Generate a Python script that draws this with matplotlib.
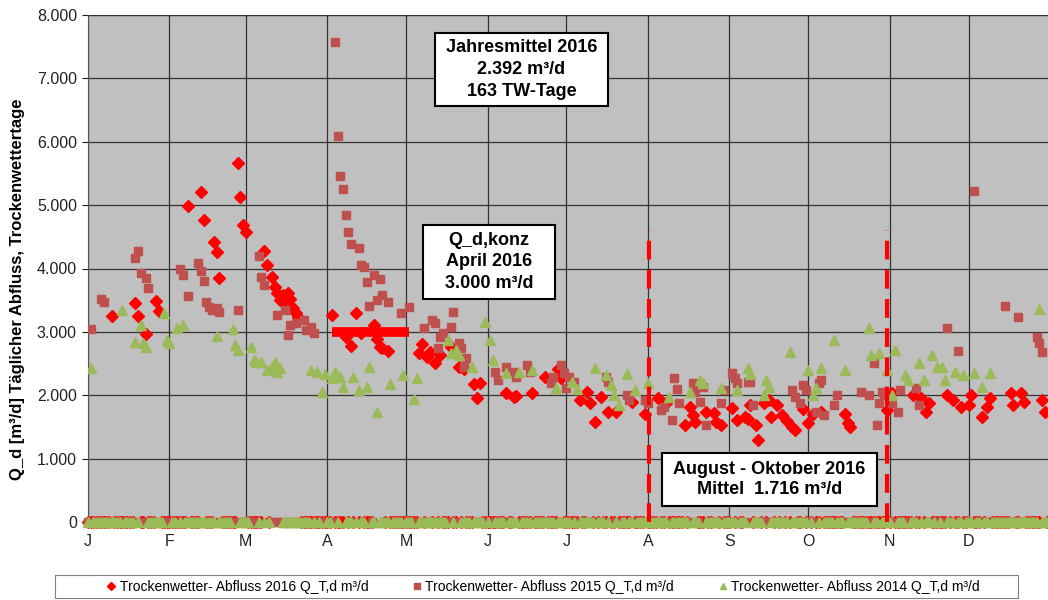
import numpy as np
import matplotlib
matplotlib.use('Agg')
import matplotlib.pyplot as plt
from matplotlib.patches import Rectangle
from matplotlib.ticker import FuncFormatter

plt.rcParams['font.family'] = ['Liberation Sans', 'DejaVu Sans']

# Trockenwettertage (Tag des Jahres, 0 = 1. Januar) und Abfluss in m³/d
days_2016 = [9, 18, 19, 22, 26, 27, 38, 43, 44, 48, 49, 50, 57, 58, 59, 60,
             67, 68, 70, 71, 72, 73, 74, 75, 76, 77, 78, 79, 80, 93, 98, 100,
             102, 104, 109, 110, 111, 112, 114, 126, 127, 129, 130, 132, 134,
             138, 141, 143, 147, 148, 149, 159, 162, 163, 169, 174, 179, 180,
             187, 190, 191, 193, 195, 198, 201, 207, 212, 217, 220, 227, 229,
             230, 231, 235, 238, 239, 241, 245, 247, 250, 251, 252, 254, 255,
             257, 259, 260, 262, 264, 266, 268, 269, 272, 274, 276, 279, 288,
             289, 290, 304, 306, 314, 317, 319, 320, 327, 329, 332, 335, 336,
             340, 342, 343, 351, 352, 355, 356, 363, 364]
q_2016 = [3250, 3460, 3250, 2965, 3490, 3330, 4983, 5209, 4763, 4420, 4263, 3853,
          5672, 5130, 4684, 4569, 4279, 4053, 3859, 3711, 3620, 3501, 3580, 3474,
          3607, 3520, 3370, 3291, 3238, 3264, 2922, 2776, 3291, 2976, 3107, 2881,
          2765, 2739, 2702, 2670, 2807, 2607, 2686, 2503, 2634, 2765, 2449, 2420,
          2176, 1951, 2187, 2030, 1976, 1990, 2030, 2291, 2408, 2266, 1924, 2055,
          1872, 1582, 1976, 1739, 1739, 1897, 1703, 1951, 1872, 1530, 1818, 1687,
          1582, 1739, 1713, 1582, 1530, 1793, 1609, 1660, 1630, 1845, 1530, 1293,
          1872, 1924, 1660, 1845, 1687, 1600, 1500, 1450, 1790, 1560, 1710, 1740,
          1710, 1560, 1503, 1766, 2030, 2003, 1951, 1739, 1870, 2003, 1924, 1818,
          1840, 2003, 1660, 1818, 1951, 2030, 1845, 2030, 1897, 1924, 1739]

days_2015 = [1, 5, 6, 18, 19, 20, 22, 23, 35, 36, 38, 42, 43, 44, 45, 46, 47, 49,
             50, 57, 65, 66, 67, 72, 75, 76, 77, 79, 82, 83, 85, 86, 94, 95, 96,
             97, 98, 99, 100, 103, 104, 105, 106, 107, 109, 110, 111, 112, 114,
             119, 122, 128, 131, 132, 133, 134, 135, 138, 139, 141, 142, 143, 144,
             155, 156, 159, 162, 163, 167, 168, 176, 177, 180, 181, 182, 183, 185,
             197, 198, 205, 206, 212, 213, 218, 219, 222, 223, 224, 225, 230, 231,
             233, 234, 235, 241, 242, 245, 246, 247, 251, 252, 253, 268, 269, 271,
             272, 273, 277, 278, 279, 280, 284, 285, 294, 297, 299, 300, 301, 302,
             303, 306, 308, 309, 315, 316, 327, 331, 337, 349, 354, 361, 362, 363]
q_2015 = [3039, 3512, 3474, 4168, 4278, 3932, 3843, 3685, 3985, 3895, 3564, 4080,
          3963, 3801, 3474, 3395, 3343, 3370, 3316, 3343, 4195, 3868, 3737, 3264,
          3343, 2949, 3107, 3133, 3185, 3028, 3070, 2976, 7570, 6087, 5460, 5250,
          4840, 4570, 4384, 4316, 4053, 4021, 3790, 3406, 3895, 3500, 3827, 3580,
          3474, 3291, 3395, 3055, 3185, 3133, 2739, 2922, 2976, 3080, 3316, 2818,
          2739, 2449, 2582, 2370, 2239, 2449, 2370, 2291, 2476, 2370, 2187, 2291,
          2476, 2344, 2120, 2291, 2213, 2291, 2213, 2003, 1924, 1924, 1870, 1766,
          1818, 1609, 2266, 2093, 1870, 2187, 2055, 1897, 2134, 1530, 1872, 2082,
          2345, 2266, 2187, 2213, 2213, 1845, 2082, 1976, 1870, 2160, 2082, 1739,
          2187, 2239, 1687, 1845, 2003, 2055, 2003, 2503, 1530, 1870, 2055, 2003,
          1870, 1739, 2082, 2108, 1845, 3054, 2702, 5225, 3406, 3228, 2922, 2818,
          2686]

days_2014 = [1, 13, 18, 20, 21, 22, 29, 30, 31, 34, 36, 49, 55, 56, 57, 62, 63,
             64, 66, 68, 70, 71, 72, 73, 85, 87, 89, 90, 93, 94, 96, 97, 101, 103,
             106, 107, 110, 115, 120, 124, 125, 137, 138, 140, 141, 146, 151, 153,
             154, 159, 164, 169, 178, 184, 186, 193, 197, 199, 200, 202, 205, 208,
             213, 221, 229, 233, 234, 241, 247, 251, 252, 257, 258, 259, 267, 274,
             276, 277, 279, 284, 288, 297, 298, 301, 304, 306, 307, 311, 312, 316,
             318, 321, 323, 325, 326, 330, 333, 337, 340, 343, 362]
q_2014 = [2424, 3343, 2843, 3107, 2818, 2765, 3291, 2870, 2818, 3054, 3107, 2933,
          3039, 2791, 2712, 2765, 2555, 2528, 2528, 2397, 2450, 2528, 2370, 2424,
          2397, 2370, 2055, 2330, 2266, 2370, 2291, 2134, 2291, 2082, 2134, 2449,
          1739, 2176, 2318, 1935, 2266, 2870, 2660, 2713, 2634, 2449, 3159, 2870,
          2555, 2345, 2370, 2397, 2108, 2213, 2100, 2424, 2318, 2160, 2003, 1845,
          2334, 2082, 2187, 1976, 2055, 2239, 2187, 2108, 2082, 2424, 2330, 2003,
          2239, 2134, 2686, 2397, 2003, 2108, 2424, 2870, 2397, 3054, 2634, 2660,
          2397, 2003, 2712, 2318, 2239, 2503, 2239, 2634, 2449, 2449, 2239, 2370,
          2318, 2344, 2134, 2344, 3354]

n_days = 366
month_starts = [0, 31, 60, 91, 121, 152, 182, 213, 244, 274, 305, 335]
month_labels = ['J', 'F', 'M', 'A', 'M', 'J', 'J', 'A', 'S', 'O', 'N', 'D']

q_konz = 3000
konz_days = (92.7, 122.3)
period_days = (213.5, 304.0)
period_top = 4600

legend_labels = ['Trockenwetter- Abfluss 2016 Q_T,d m³/d',
                 'Trockenwetter- Abfluss 2015 Q_T,d m³/d',
                 'Trockenwetter- Abfluss 2014 Q_T,d m³/d']

c16, c15, c14 = '#FF0000', '#C0504D', '#9BBB59'

fig = plt.figure(figsize=(10.48, 6), dpi=100)
ax = fig.add_axes([88 / 1048, 1 - 522 / 600, 962 / 1048, 507 / 600])
ax.set_facecolor('#C0C0C0')

all_days = np.arange(n_days)


def plot_year(days, q, marker, color, ms, z, label):
    zero_days = np.setdiff1d(all_days, days)
    ax.plot(days, q, ls='none', marker=marker, color=color, ms=ms,
            mec=color, zorder=z, label=label)
    ax.plot(zero_days, np.zeros(len(zero_days)), ls='none', marker=marker,
            color=color, ms=ms, mec=color, zorder=z, clip_on=False)


plot_year(days_2016, q_2016, 'D', c16, 6, 3, legend_labels[0])
plot_year(days_2015, q_2015, 's', c15, 6, 4, legend_labels[1])
plot_year(days_2014, q_2014, '^', c14, 6.5, 5, legend_labels[2])

# Q_d,konz April
ax.plot(konz_days, [q_konz, q_konz], color=c16, lw=7, solid_capstyle='butt', zorder=6)

# Zeitraum August - Oktober
for d in period_days:
    ax.plot([d, d], [0, period_top], color=c16, lw=3, dashes=(4.5, 2.5), zorder=6)

ax.set_xlim(0, n_days)
ax.set_ylim(0, 8000)
ax.set_xticks(month_starts)
ax.set_xticklabels(month_labels)
ax.set_yticks(np.arange(0, 8001, 1000))
ax.yaxis.set_major_formatter(FuncFormatter(lambda v, p: f'{int(v):,}'.replace(',', '.')))
ax.tick_params(axis='x', length=0, pad=9, labelsize=11.5, colors='#222222')
ax.tick_params(axis='y', length=4, width=0.8, pad=4, labelsize=11.5, colors='#222222')
ax.grid(True, color='#333333', lw=0.9)
ax.set_axisbelow(True)
for s in ['right', 'top']:
    ax.spines[s].set_visible(False)
for s in ['left', 'bottom']:
    ax.spines[s].set_color('#555555')
ax.axhline(8000, color='#333333', lw=0.9, zorder=1)

fig.text(18 / 1048, 1 - 289 / 600, 'Q_d [m³/d] Täglicher Abfluss, Trockenwettertage',
         rotation=90, ha='center', va='center', fontsize=12, fontweight='bold')

# Textfelder
boxes = [
    ((435, 33, 608, 106), 'Jahresmittel 2016\n2.392 m³/d\n163 TW-Tage', 1.35),
    ((423, 225, 555, 299), 'Q_d,konz\nApril 2016\n3.000 m³/d', 1.35),
    ((662, 453, 877, 506), 'August - Oktober 2016\nMittel  1.716 m³/d', 1.23),
]
for (x0, y0, x1, y1), txt, ls in boxes:
    fx0 = (x0 - 88) / 962
    fx1 = (x1 - 88) / 962
    fy0 = (522 - y1) / 507
    fy1 = (522 - y0) / 507
    ax.add_patch(Rectangle((fx0, fy0), fx1 - fx0, fy1 - fy0, transform=ax.transAxes,
                           fc='white', ec='black', lw=1.5, zorder=8))
    ax.text((fx0 + fx1) / 2, (fy0 + fy1) / 2, txt, transform=ax.transAxes,
            ha='center', va='center', fontsize=13, fontweight='bold',
            linespacing=ls, zorder=9)

# Legende mit eigenem Rahmen
fig.patches.append(Rectangle((55 / 1048, 1 - 598 / 600), 963 / 1048, 23 / 600,
                             transform=fig.transFigure, fc='white', ec='#808080', lw=0.8))
leg = fig.legend(loc='center', bbox_to_anchor=(542 / 1048, 1 - 586.5 / 600),
                 ncol=3, fontsize=10, frameon=False, markerscale=0.7,
                 handletextpad=0.1, handlelength=1.0, columnspacing=3.0, borderpad=0.2)

plt.savefig('out.png', dpi=100)
